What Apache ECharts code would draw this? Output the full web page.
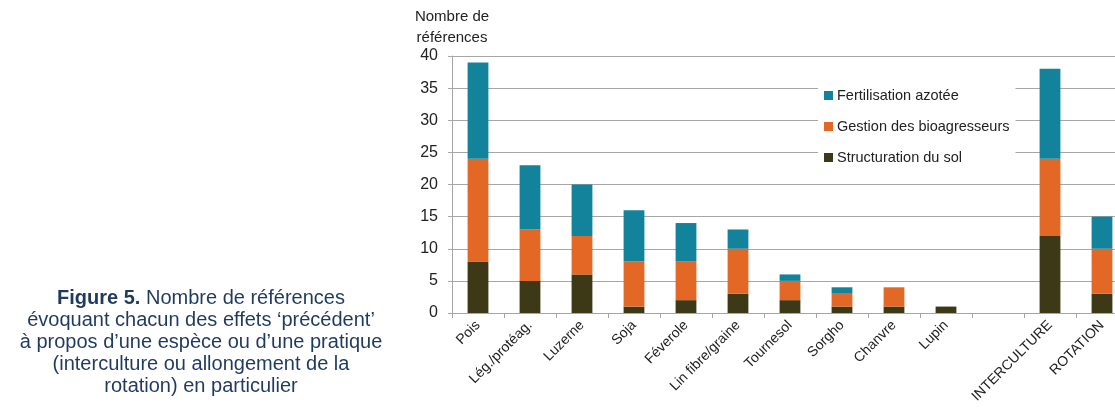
<!DOCTYPE html>
<html>
<head>
<meta charset="utf-8">
<script src="https://cdn.jsdelivr.net/npm/echarts@6/dist/echarts.min.js"></script>
<style>
  html, body { margin: 0; padding: 0; background: #fff; }
  #chart { width: 1115px; height: 412px; }
</style>
</head>
<body>
<div id="chart"></div>
<script>
// categories (one empty slot between Lupin and INTERCULTURE)
const categories = [
  "Pois", "Lég./protéag.", "Luzerne", "Soja", "Féverole", "Lin fibre/graine",
  "Tournesol", "Sorgho", "Chanvre", "Lupin", "", "INTERCULTURE", "ROTATION"
];
const structuration = [8, 5, 6, 1, 2, 3, 2, 1, 1, 1, null, 12, 3];
const gestion = [16, 8, 6, 7, 6, 7, 3, 2, 3, 0, null, 12, 7];
const fertilisation = [15, 10, 8, 8, 6, 3, 1, 1, 0, 0, null, 14, 5];

const seriesNames = ["Structuration du sol", "Gestion des bioagresseurs", "Fertilisation azotée"];
const colors = ["#3d3816", "#e36825", "#13829b"];

const chart = echarts.init(document.getElementById("chart"));

const font = "Liberation Sans, Arial, sans-serif";

const option = {
  animation: false,
  backgroundColor: "#fff",
  title: {
    text: "{b|Figure 5.} Nombre de références\névoquant chacun des effets ‘précédent’\nà propos d’une espèce ou d’une pratique\n(interculture ou allongement de la\nrotation) en particulier",
    left: 196,
    top: 282,
    textAlign: "center",
    textStyle: {
      fontFamily: font,
      fontSize: 20,
      fontWeight: "normal",
      color: "#1f3a5f",
      lineHeight: 22,
      align: "center",
      rich: {
        b: { fontFamily: font, fontSize: 20, fontWeight: "bold", color: "#1f3a5f" }
      }
    }
  },
  legend: {
    data: seriesNames.slice().reverse(),
    orient: "vertical",
    left: 818,
    top: 78,
    padding: [10, 6, 8, 6],
    itemGap: 16,
    itemWidth: 9,
    itemHeight: 9,
    icon: "rect",
    backgroundColor: "#fff",
    textStyle: { fontFamily: font, fontSize: 14.5, color: "#222", padding: [0, 0, 0, -1] }
  },
  grid: { left: 452, width: 676, top: 56, bottom: 99, outerBoundsMode: "none", containLabel: false },
  xAxis: {
    type: "category",
    data: categories,
    axisLine: { lineStyle: { color: "#a6a6a6" } },
    axisTick: { show: true, length: 5, lineStyle: { color: "#a6a6a6" } },
    axisLabel: {
      interval: 0,
      rotate: 45,
      margin: 10,
      fontFamily: font,
      fontSize: 14,
      color: "#222"
    }
  },
  yAxis: {
    type: "value",
    min: 0,
    max: 40,
    interval: 5,
    name: "Nombre de\nréférences",
    nameLocation: "end",
    nameGap: 8,
    nameTextStyle: { fontFamily: font, fontSize: 15, color: "#222", align: "center", lineHeight: 21 },
    axisLine: { show: true, lineStyle: { color: "#a6a6a6" } },
    axisTick: { show: true, length: 4, lineStyle: { color: "#a6a6a6" } },
    splitLine: { lineStyle: { color: "#a6a6a6" } },
    axisLabel: { fontFamily: font, fontSize: 16, color: "#222", margin: 14 }
  },
  series: [
    { name: seriesNames[0], data: structuration, color: colors[0] },
    { name: seriesNames[1], data: gestion, color: colors[1] },
    { name: seriesNames[2], data: fertilisation, color: colors[2] }
  ].map((s) => ({
    ...s,
    type: "bar",
    stack: "total",
    barWidth: "40%",
    itemStyle: { color: s.color },
    z: 3
  }))
};

chart.setOption(option);
</script>
</body>
</html>
